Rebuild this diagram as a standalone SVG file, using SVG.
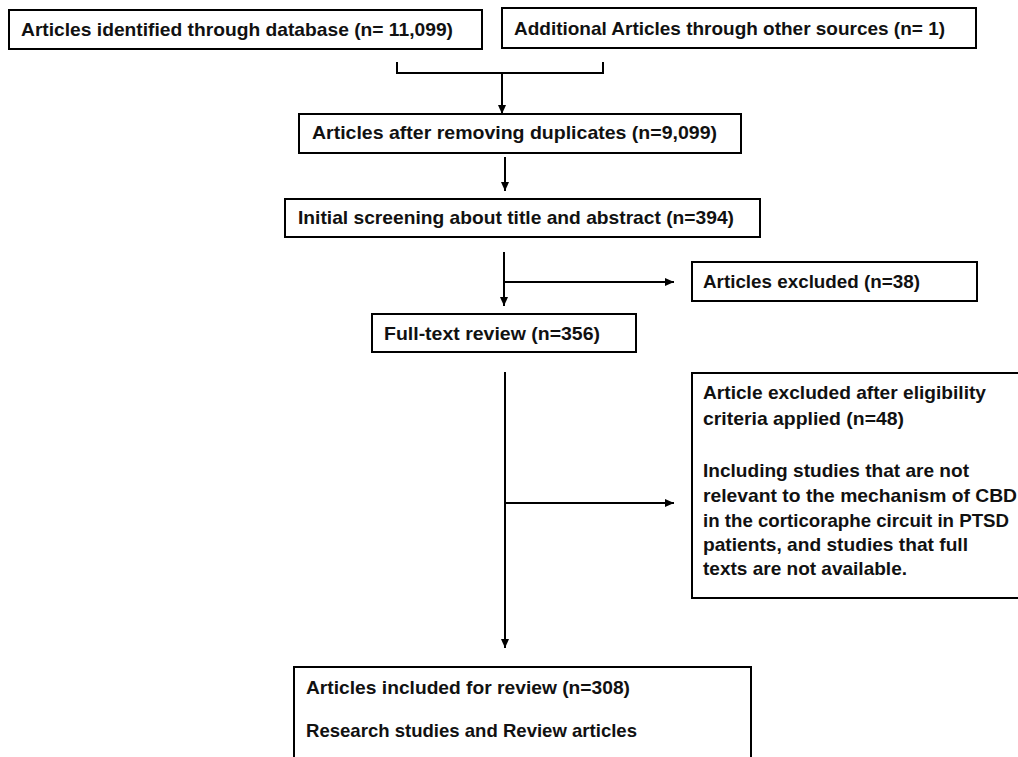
<svg xmlns="http://www.w3.org/2000/svg" width="1018" height="757" viewBox="0 0 1018 757">
<style>
.box{fill:#fff;stroke:#000;stroke-width:2}
.t{font-family:"Liberation Sans",Arial,sans-serif;font-weight:bold;font-size:19px;fill:#111}
.ln{fill:none;stroke:#000;stroke-width:2}
</style>
<defs>
<marker id="ah" markerWidth="10" markerHeight="10" refX="9" refY="4.5" orient="auto" markerUnits="userSpaceOnUse">
<path d="M0,0.5 L9,4.5 L0,8.5 Z" fill="#000"/>
</marker>
</defs>
<rect width="1018" height="757" fill="#fff"/>
<g id="connectors">
<path class="ln" d="M397,62 V73 H603 V62"/>
<line class="ln" x1="502" y1="73" x2="502" y2="114" marker-end="url(#ah)"/>
<line class="ln" x1="505" y1="157" x2="505" y2="191" marker-end="url(#ah)"/>
<line class="ln" x1="504" y1="252" x2="504" y2="306" marker-end="url(#ah)"/>
<line class="ln" x1="504" y1="282" x2="674" y2="282" marker-end="url(#ah)"/>
<line class="ln" x1="505" y1="372" x2="505" y2="648" marker-end="url(#ah)"/>
<line class="ln" x1="505" y1="503" x2="674" y2="503" marker-end="url(#ah)"/>
</g>
<g id="n1"><rect class="box" x="9" y="10" width="473" height="39"/>
<text class="t" x="21" y="36" textLength="432" lengthAdjust="spacingAndGlyphs">Articles identified through database (n= 11,099)</text></g>
<g id="n2"><rect class="box" x="502" y="8" width="474" height="40"/>
<text class="t" x="514" y="35" textLength="431" lengthAdjust="spacingAndGlyphs">Additional Articles through other sources (n= 1)</text></g>
<g id="n3"><rect class="box" x="299" y="114" width="442" height="39"/>
<text class="t" x="312" y="139" textLength="405" lengthAdjust="spacingAndGlyphs">Articles after removing duplicates (n=9,099)</text></g>
<g id="n4"><rect class="box" x="285" y="199" width="475" height="38"/>
<text class="t" x="298" y="224" textLength="436" lengthAdjust="spacingAndGlyphs">Initial screening about title and abstract (n=394)</text></g>
<g id="n5"><rect class="box" x="692" y="262" width="285" height="39"/>
<text class="t" x="703" y="288" textLength="217" lengthAdjust="spacingAndGlyphs">Articles excluded (n=38)</text></g>
<g id="n6"><rect class="box" x="372" y="314" width="264" height="38"/>
<text class="t" x="384" y="340" textLength="216" lengthAdjust="spacingAndGlyphs">Full-text review (n=356)</text></g>
<g id="n7"><rect class="box" x="692" y="373" width="330" height="225"/>
<text class="t" x="703" y="399" textLength="283" lengthAdjust="spacingAndGlyphs">Article excluded after eligibility</text>
<text class="t" x="703" y="425" textLength="201" lengthAdjust="spacingAndGlyphs">criteria applied (n=48)</text>
<text class="t" x="703" y="477" textLength="266" lengthAdjust="spacingAndGlyphs">Including studies that are not</text>
<text class="t" x="703" y="502" textLength="314" lengthAdjust="spacingAndGlyphs">relevant to the mechanism of CBD</text>
<text class="t" x="703" y="527" textLength="306" lengthAdjust="spacingAndGlyphs">in the corticoraphe circuit in PTSD</text>
<text class="t" x="703" y="551" textLength="265" lengthAdjust="spacingAndGlyphs">patients, and studies that full</text>
<text class="t" x="703" y="575" textLength="204" lengthAdjust="spacingAndGlyphs">texts are not available.</text></g>
<g id="n8"><rect class="box" x="294" y="667" width="457" height="100"/>
<text class="t" x="306" y="694" textLength="324" lengthAdjust="spacingAndGlyphs">Articles included for review (n=308)</text>
<text class="t" x="306" y="737" textLength="331" lengthAdjust="spacingAndGlyphs">Research studies and Review articles</text></g>
</svg>
